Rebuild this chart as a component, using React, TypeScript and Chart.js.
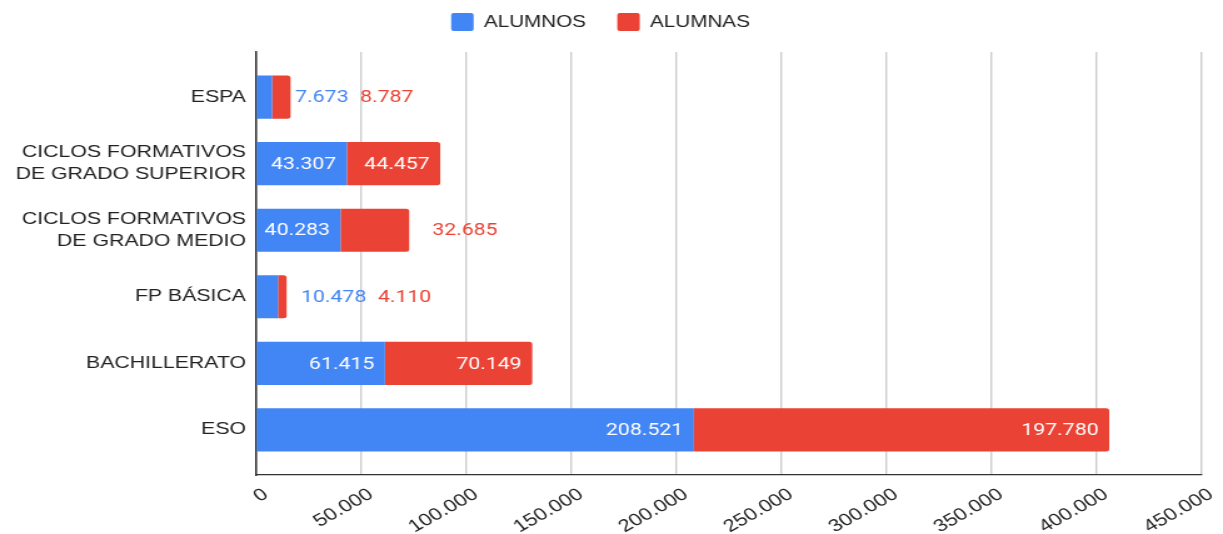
import React, { useEffect, useRef } from 'react';
import { Chart, registerables } from 'chart.js';

Chart.register(...registerables);

// ---- data ----
const CATEGORIES: (string | string[])[] = [
  'ESPA',
  ['CICLOS FORMATIVOS', 'DE GRADO SUPERIOR'],
  ['CICLOS FORMATIVOS', 'DE GRADO MEDIO'],
  'FP BÁSICA',
  'BACHILLERATO',
  'ESO',
];
const SERIES_NAMES = ['ALUMNOS', 'ALUMNAS'];
const ALUMNOS = [7673, 43307, 40283, 10478, 61415, 208521];
const ALUMNAS = [8787, 44457, 32685, 4110, 70149, 197780];
const X_TICKS = [0, 50000, 100000, 150000, 200000, 250000, 300000, 350000, 400000, 450000];

// ---- styling ----
const BLUE = '#4285F4';
const RED = '#EA4335';
const ARIAL = "Arial, 'Liberation Sans', sans-serif";
const ROBOTO = "Roboto, 'Noto Sans', sans-serif";
const FULL_W = 1223;
const FULL_H = 534;
const CANVAS_W = 978; // drawn narrower, then stretched horizontally
const STRETCH = FULL_W / CANVAS_W;

const fmt = (v: number) => String(Math.round(v)).replace(/\B(?=(\d{3})+(?!\d))/g, '.');

const legendHeightPlugin = {
  id: 'legendHeight',
  beforeLayout(chart: any) {
    const lg = chart.legend;
    if (lg && !lg.__wrapped) {
      const orig = lg.fit.bind(lg);
      lg.fit = () => {
        orig();
        lg.height = 64;
      };
      lg.__wrapped = true;
    }
  },
};

const barLabelPlugin = {
  id: 'barLabels',
  afterDatasetsDraw(chart: any) {
    const ctx = chart.ctx;
    ctx.save();
    ctx.font = `17px ${ROBOTO}`;
    ctx.textBaseline = 'middle';
    for (let i = 0; i < CATEGORIES.length; i++) {
      let lastEnd = -Infinity;
      chart.data.datasets.forEach((ds: any, d: number) => {
        const meta = chart.getDatasetMeta(d);
        const el = meta.data[i];
        if (!el) return;
        const { x, y, base } = el.getProps(['x', 'y', 'base'], true);
        const text = fmt(ds.data[i].x);
        const w = ctx.measureText(text).width;
        const seg = x - base;
        if (w + 12 <= seg) {
          ctx.fillStyle = '#ffffff';
          ctx.textAlign = 'right';
          ctx.fillText(text, x - 8.5, y + 1);
        } else {
          const x0 = Math.max(x + 18.4, lastEnd + 9.2);
          ctx.fillStyle = ds.backgroundColor;
          ctx.textAlign = 'left';
          ctx.fillText(text, x0, y + 1);
          lastEnd = x0 + w;
        }
      });
    }
    ctx.restore();
  },
};

export default function App() {
  const ref = useRef<HTMLCanvasElement | null>(null);

  useEffect(() => {
    if (!ref.current) return;
    const chart = new Chart(ref.current, {
      type: 'bar',
      data: {
        datasets: [
          {
            label: SERIES_NAMES[0],
            data: ALUMNOS.map((v, i) => ({ x: v, y: i })),
            backgroundColor: BLUE,
            borderWidth: 0,
            borderRadius: 2.5,
            stack: 'total',
            barPercentage: 0.65,
            categoryPercentage: 1,
          },
          {
            label: SERIES_NAMES[1],
            data: ALUMNAS.map((v, i) => ({ x: v, y: i })),
            backgroundColor: RED,
            borderWidth: 0,
            borderRadius: 2.5,
            stack: 'total',
            barPercentage: 0.65,
            categoryPercentage: 1,
          },
        ],
      } as any,
      options: {
        animation: false,
        responsive: false,
        maintainAspectRatio: false,
        devicePixelRatio: 1,
        indexAxis: 'y',
        layout: { autoPadding: false, padding: { top: -12, right: 17.6, bottom: 0, left: 0 } },
        plugins: {
          legend: {
            position: 'top',
            align: 'center',
            labels: {
              boxWidth: 18,
              boxHeight: 18,
              padding: 25,
              useBorderRadius: true,
              borderRadius: 2,
              color: '#222222',
              font: { family: ARIAL, size: 16.5 },
            },
          },
          tooltip: { enabled: false },
        },
        scales: {
          x: {
            type: 'linear',
            position: 'bottom',
            stacked: true,
            min: 0,
            max: 450000,
            afterBuildTicks: (s: any) => {
              s.ticks = X_TICKS.map((v) => ({ value: v }));
            },
            afterFit: (s: any) => {
              s.height = 59;
              s.paddingLeft = 0;
              s.paddingRight = 0;
            },
            ticks: {
              autoSkip: false,
              minRotation: 35,
              maxRotation: 35,
              padding: 9,
              labelOffset: 8,
              color: '#222222',
              font: { family: ARIAL, size: 17.5 },
              callback: (v: any) => fmt(Number(v)),
            },
            grid: { color: '#cccccc', lineWidth: 1.4, drawTicks: false },
            border: { display: true, color: '#333333', width: 1.3 },
          },
          y: {
            type: 'linear',
            reverse: true,
            offset: false,
            bounds: 'data',
            min: -0.68,
            max: 5.68,
            afterBuildTicks: (s: any) => {
              s.ticks = CATEGORIES.map((_, i) => ({ value: i }));
            },
            afterFit: (s: any) => {
              s.width = 204.7;
              s.paddingTop = 0;
              s.paddingBottom = 0;
            },
            ticks: {
              autoSkip: false,
              padding: 8,
              color: '#222222',
              font: { family: ARIAL, size: 17, lineHeight: 1.3 },
              callback: (v: any) => CATEGORIES[Number(v)] ?? '',
            },
            grid: { display: false, drawTicks: false, offset: false },
            border: { display: true, color: '#333333', width: 1.5 },
          },
        },
      } as any,
      plugins: [legendHeightPlugin, barLabelPlugin],
    });
    return () => chart.destroy();
  }, []);

  return (
    <div
      style={{
        position: 'fixed',
        left: 0,
        top: 0,
        width: FULL_W,
        height: FULL_H,
        overflow: 'hidden',
        background: '#ffffff',
      }}
    >
      <div
        style={{
          width: CANVAS_W,
          height: FULL_H,
          transform: `scaleX(${STRETCH})`,
          transformOrigin: '0 0',
        }}
      >
        <canvas ref={ref} width={CANVAS_W} height={FULL_H} style={{ display: 'block' }} />
      </div>
    </div>
  );
}
